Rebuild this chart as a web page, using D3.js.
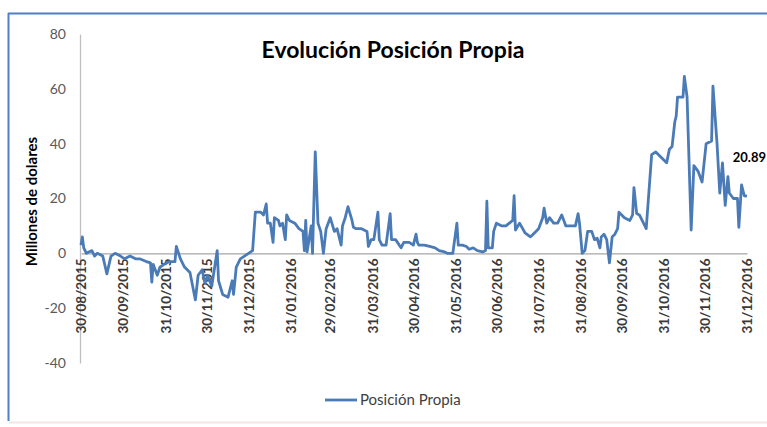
<!DOCTYPE html>
<html>
<head>
<meta charset="utf-8">
<script src="https://cdn.jsdelivr.net/npm/d3@7"></script>
<style>
  html, body { margin: 0; padding: 0; background: #ffffff; }
  svg { display: block; }
</style>
</head>
<body>
<svg id="chart" width="767" height="427"></svg>
<script>
// ---- data ----
const chartTitle = "Evolución Posición Propia";
const yAxisTitle = "Millones de dolares";
const seriesName = "Posición Propia";
const lastLabel = "20.89";

const dates = [
  "2015-08-30","2015-08-31","2015-09-01","2015-09-03","2015-09-07","2015-09-09","2015-09-11","2015-09-15",
  "2015-09-18","2015-09-21","2015-09-24","2015-09-28","2015-10-01","2015-10-05","2015-10-09","2015-10-12",
  "2015-10-17","2015-10-20","2015-10-21","2015-10-22","2015-10-25","2015-10-27","2015-10-30","2015-11-03",
  "2015-11-07","2015-11-08","2015-11-11","2015-11-14","2015-11-18","2015-11-22","2015-11-24","2015-11-27",
  "2015-11-29","2015-12-01","2015-12-04","2015-12-08","2015-12-09","2015-12-12","2015-12-16","2015-12-19",
  "2015-12-20","2015-12-22","2015-12-25","2015-12-28","2015-12-31","2016-01-03","2016-01-05","2016-01-09",
  "2016-01-11","2016-01-13","2016-01-14","2016-01-16","2016-01-18","2016-01-19","2016-01-22","2016-01-23",
  "2016-01-25","2016-01-27","2016-01-28","2016-01-30","2016-02-03","2016-02-06","2016-02-09","2016-02-10",
  "2016-02-11","2016-02-12","2016-02-15","2016-02-16","2016-02-18","2016-02-20","2016-02-22","2016-02-24",
  "2016-02-26","2016-02-29","2016-03-03","2016-03-05","2016-03-08","2016-03-09","2016-03-11","2016-03-13",
  "2016-03-16","2016-03-17","2016-03-19","2016-03-23","2016-03-27","2016-03-28","2016-03-30","2016-04-01",
  "2016-04-04","2016-04-05","2016-04-07","2016-04-10","2016-04-13","2016-04-14","2016-04-17","2016-04-21",
  "2016-04-23","2016-04-27","2016-04-30","2016-05-02","2016-05-03","2016-05-04","2016-05-08","2016-05-12",
  "2016-05-16","2016-05-19","2016-05-23","2016-05-25","2016-05-29","2016-06-01","2016-06-02","2016-06-05",
  "2016-06-08","2016-06-10","2016-06-13","2016-06-16","2016-06-20","2016-06-22","2016-06-23","2016-06-24",
  "2016-06-27","2016-06-28","2016-06-30","2016-07-04","2016-07-07","2016-07-12","2016-07-13","2016-07-14",
  "2016-07-17","2016-07-21","2016-07-25","2016-07-27","2016-07-31","2016-08-03","2016-08-04","2016-08-06",
  "2016-08-08","2016-08-11","2016-08-14","2016-08-17","2016-08-20","2016-08-23","2016-08-27","2016-08-29",
  "2016-08-30","2016-09-01","2016-09-03","2016-09-05","2016-09-08","2016-09-10","2016-09-12","2016-09-14",
  "2016-09-15","2016-09-17","2016-09-19","2016-09-21","2016-09-23","2016-09-25","2016-09-27","2016-09-28",
  "2016-10-02","2016-10-06","2016-10-08","2016-10-09","2016-10-11","2016-10-13","2016-10-18","2016-10-22",
  "2016-10-25","2016-11-02","2016-11-04","2016-11-06","2016-11-08","2016-11-09","2016-11-10","2016-11-14",
  "2016-11-15","2016-11-17","2016-11-20","2016-11-22","2016-11-25","2016-11-28","2016-12-01","2016-12-05",
  "2016-12-06","2016-12-09","2016-12-11","2016-12-13","2016-12-15","2016-12-17","2016-12-18","2016-12-21",
  "2016-12-24","2016-12-25","2016-12-27","2016-12-29","2016-12-31"
];

const values = [
  3, 6, 2, 0, 1, -1, 0, -1,
  -7.5, -1, 0, -1, -2, -1, -2, -2,
  -3, -3.5, -10.5, -4, -8, -5, -4, -3,
  -3, 2.5, -2, -5, -7, -17, -8, -6,
  -11, -8, -12, 1, -10, -15, -16, -10,
  -15, -5, -2, -1, 0, 1, 15, 15,
  14, 18, 11, 11, 4, 13, 12, 10,
  11, 5, 14, 12, 11, 9, 8, 1,
  12, 0.5, 10, 0, 37, 11, 8, 0,
  9, 13, 8, 9, 3, 10, 13, 17,
  12, 9.5, 9, 9, 8, 2.5, 5, 5,
  15, 5, 3, 3, 14.5, 5, 5, 2,
  4, 4, 3, 7, 4, 3, 3, 2.5,
  2, 1, 0.5, 0, 0, 11, 3, 3,
  2.5, 1.5, 2, 1, 0.5, 1, 19, 2,
  2, 8, 11, 10, 10, 12, 21, 8.5,
  11, 7.5, 6, 7, 9, 13, 16.5, 11,
  13, 11, 11, 14, 10, 10, 10, 14.5,
  11, 0, 1, 8, 8, 5, 5.5, 2,
  6, 7, 5, -3.5, 6, 7, 9, 15,
  13, 12, 14, 24, 14.5, 14, 9, 36,
  37, 33, 38, 39, 48, 50, 57, 57,
  64.5, 57, 8.5, 32, 30, 26, 40, 41,
  61, 40, 22, 33, 17.5, 28, 22, 20,
  20, 9.5, 25, 21, 20.89
];

const tickLabels = [
  "30/08/2015","30/09/2015","31/10/2015","30/11/2015","31/12/2015","31/01/2016",
  "29/02/2016","31/03/2016","30/04/2016","31/05/2016","30/06/2016","31/07/2016",
  "31/08/2016","30/09/2016","31/10/2016","30/11/2016","31/12/2016"
];
const yTicks = [-40, -20, 0, 20, 40, 60, 80];

// ---- drawing ----
const svg = d3.select("#chart");
const parseISO = d3.timeParse("%Y-%m-%d");
const parseDMY = d3.timeParse("%d/%m/%Y");
const fmtDMY = d3.timeFormat("%d/%m/%Y");

const data = dates.map((d, i) => ({ date: parseISO(d), value: values[i] }));
const tickDates = tickLabels.map(parseDMY);

const x = d3.scaleTime()
  .domain([parseDMY("30/08/2015"), parseDMY("31/12/2016")])
  .range([81, 747]);
const y = d3.scaleLinear().domain([-40, 80]).range([363, 34]);

const font = "Lato, 'Open Sans', sans-serif";

// chart border
svg.append("line").attr("x1", 8.5).attr("x2", 8.5).attr("y1", 13).attr("y2", 421)
  .attr("stroke", "#4f7fc4").attr("stroke-width", 2);
svg.append("line").attr("x1", 8).attr("x2", 767).attr("y1", 13.5).attr("y2", 13.5)
  .attr("stroke", "#4f7fc4").attr("stroke-width", 2);
svg.append("line").attr("x1", 9).attr("x2", 767).attr("y1", 422.5).attr("y2", 422.5)
  .attr("stroke", "#f6e6e6").attr("stroke-width", 2);

// y axis
const yAxis = svg.append("g").attr("transform", "translate(80,0)")
  .call(d3.axisLeft(y).tickValues(yTicks).tickSize(0).tickPadding(14).tickFormat(d => String(d)));
yAxis.select(".domain").attr("stroke", "#bfbfbf").attr("stroke-width", 1.3);
yAxis.selectAll("text").attr("font-family", font).attr("font-size", 14).attr("fill", "#595959");

// x axis (at zero)
const xAxis = svg.append("g").attr("transform", `translate(0,${y(0)})`)
  .call(d3.axisBottom(x).tickValues(tickDates).tickSize(0).tickFormat(fmtDMY));
xAxis.select(".domain").attr("stroke", "#a6a6a6").attr("stroke-width", 1.3);
xAxis.selectAll("text")
  .attr("font-family", font).attr("font-size", 13.5).attr("font-weight", "bold").attr("fill", "#3a3a3a")
  .attr("text-anchor", "end")
  .attr("transform", "rotate(-90)")
  .attr("x", -5).attr("y", 0).attr("dy", "0.35em");

// line
const line = d3.line().x(d => x(d.date)).y(d => y(d.value));
svg.append("path").datum(data)
  .attr("d", line)
  .attr("fill", "none")
  .attr("stroke", "#4a7bb7")
  .attr("stroke-width", 2.8)
  .attr("stroke-linejoin", "round");

// last value label
const last = data[data.length - 1];
svg.append("text")
  .attr("x", 766).attr("y", 162).attr("text-anchor", "end")
  .attr("font-family", font).attr("font-size", 13).attr("font-weight", "bold").attr("fill", "#000")
  .text(lastLabel);

// title
svg.append("text").attr("x", 393).attr("y", 58).attr("text-anchor", "middle")
  .attr("font-family", font).attr("font-size", 23).attr("font-weight", "bold").attr("fill", "#000")
  .text(chartTitle);

// y axis title
svg.append("text")
  .attr("transform", `translate(37,${y(20) + 3}) rotate(-90)`)
  .attr("text-anchor", "middle")
  .attr("font-family", font).attr("font-size", 15).attr("font-weight", "bold").attr("fill", "#000")
  .text(yAxisTitle);

// legend
const lg = svg.append("g");
lg.append("line").attr("x1", 325).attr("x2", 357).attr("y1", 400).attr("y2", 400)
  .attr("stroke", "#4a7bb7").attr("stroke-width", 2.8);
lg.append("text").attr("x", 360).attr("y", 405)
  .attr("font-family", font).attr("font-size", 15).attr("fill", "#404040")
  .text(seriesName);
</script>
</body>
</html>
